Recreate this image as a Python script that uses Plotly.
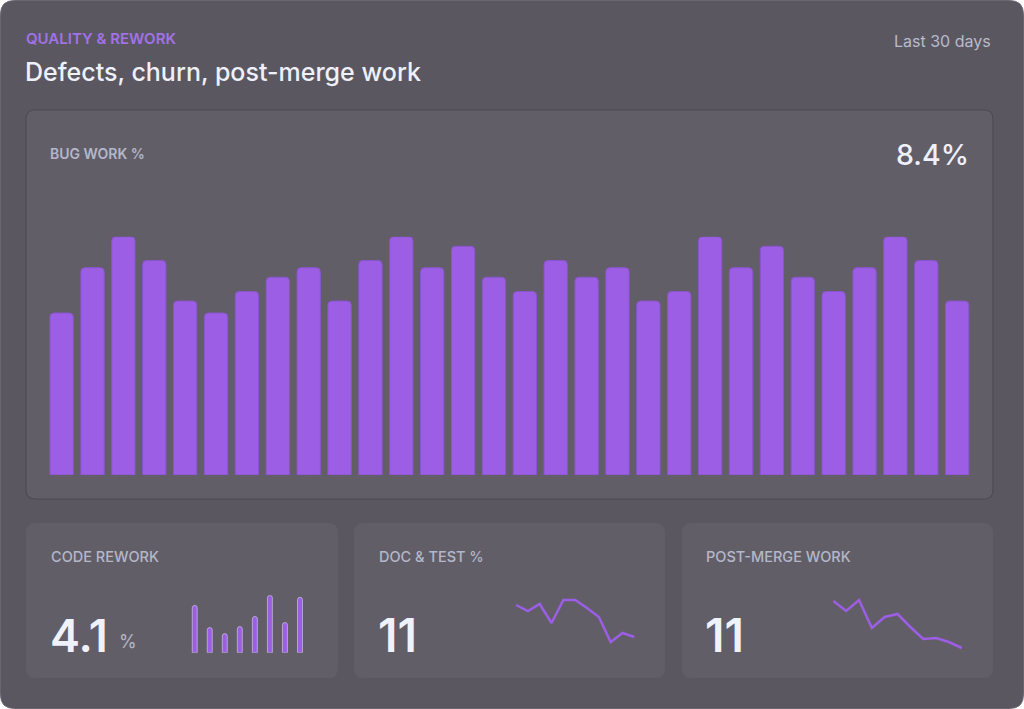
import plotly.graph_objects as go

W, H = 1024, 709

# data
days = list(range(1, 31))
bug_work = [6.8, 8.7, 10.0, 9.0, 7.3, 6.8, 7.7, 8.3, 8.7, 7.3,
            9.0, 10.0, 8.7, 9.6, 8.3, 7.7, 9.0, 8.3, 8.7, 7.3,
            7.7, 10.0, 8.7, 9.6, 8.3, 7.7, 8.7, 10.0, 9.0, 7.3]
code_rework = [4.7, 2.5, 1.9, 2.6, 3.6, 5.7, 3.0, 5.5]
doc_test = [12.5, 11.9, 12.6, 10.7, 13.0, 13.0, 12.2, 11.3, 8.8, 9.7, 9.3]
post_merge = [13.4, 12.4, 13.5, 10.7, 11.8, 12.1, 10.8, 9.6, 9.7, 9.3, 8.7]

PURPLE = "#9b5ee4"
CARD = "#5b5760"
PANEL = "#625e68"
FONT = "Inter"


def px(x):
    return x / W


def py(y):
    return 1 - y / H


def rounded(x0, y0, x1, y1, r):
    pts = [
        ("M", [(x0 + r, y0)]), ("L", [(x1 - r, y0)]), ("Q", [(x1, y0), (x1, y0 + r)]),
        ("L", [(x1, y1 - r)]), ("Q", [(x1, y1), (x1 - r, y1)]),
        ("L", [(x0 + r, y1)]), ("Q", [(x0, y1), (x0, y1 - r)]),
        ("L", [(x0, y0 + r)]), ("Q", [(x0, y0), (x0 + r, y0)]),
    ]
    s = ""
    for cmd, ps in pts:
        s += cmd + " " + " ".join("%.5f,%.5f" % (px(a), py(b)) for a, b in ps) + " "
    return s + "Z"


fig = go.Figure()

fig.add_trace(go.Bar(x=days, y=bug_work, marker=dict(color=PURPLE, cornerradius=4,
                     line=dict(color="#8a55cc", width=1)),
                     xaxis="x", yaxis="y", hoverinfo="y"))
fig.add_trace(go.Bar(x=list(range(len(code_rework))), y=code_rework,
                     marker=dict(color=PURPLE, cornerradius="50%"), width=0.33,
                     xaxis="x2", yaxis="y2", hoverinfo="y"))
fig.add_trace(go.Scatter(x=list(range(len(doc_test))), y=doc_test, mode="lines",
                         line=dict(color=PURPLE, width=2.5),
                         xaxis="x3", yaxis="y3", hoverinfo="y"))
fig.add_trace(go.Scatter(x=list(range(len(post_merge))), y=post_merge, mode="lines",
                         line=dict(color=PURPLE, width=2.5),
                         xaxis="x4", yaxis="y4", hoverinfo="y"))

hidden = dict(visible=False, fixedrange=True)

shapes = [
    dict(type="path", path=rounded(0.5, 0.5, 1023.5, 708.5, 14), xref="paper", yref="paper",
         fillcolor=CARD, line=dict(color="#6a6670", width=1), layer="below"),
    dict(type="path", path=rounded(26, 110, 993, 499, 9), xref="paper", yref="paper",
         fillcolor=PANEL, line=dict(color="#4e4b53", width=1.2), layer="below"),
]
for x0, x1 in [(26, 338), (354, 665), (682, 993)]:
    shapes.append(dict(type="path", path=rounded(x0, 523, x1, 678, 10), xref="paper",
                       yref="paper", fillcolor=PANEL, line=dict(width=0), layer="below"))


def label(x, y, text, size, color, weight=400, anchor="left"):
    return dict(x=px(x), y=py(y), xref="paper", yref="paper", text=text, showarrow=False,
                xanchor=anchor, yanchor="middle",
                font=dict(family=FONT, size=size, color=color, weight=weight))


annotations = [
    label(24, 38, "QUALITY &amp; REWORK", 15, "#a172e8", 600),
    label(23, 72, "Defects, churn, post-merge work", 25, "#eef0fa", 500),
    label(993, 41, "Last 30 days", 16, "#b8bbca", 400, "right"),
    label(48, 153, "BUG WORK %", 14, "#b4b7c8", 600),
    label(971, 154, "8.4%", 28.5, "#eef0fa", 500, "right"),
    label(49, 556, "CODE REWORK", 14.5, "#b4b7c8", 500),
    label(377, 556, "DOC &amp; TEST %", 14.5, "#b4b7c8", 500),
    label(704, 556, "POST-MERGE WORK", 14.5, "#b4b7c8", 500),
    label(48, 635, "4.1", 45, "#f0f2fb", 600),
    label(117, 641, "%", 18, "#b4b7c8", 400),
    label(376, 635, "11", 46, "#f0f2fb", 600),
    label(703, 635, "11", 46, "#f0f2fb", 600),
]

fig.update_layout(
    width=W, height=H,
    margin=dict(l=0, r=0, t=0, b=0),
    paper_bgcolor="white", plot_bgcolor="rgba(0,0,0,0)",
    showlegend=False, bargap=0.245,
    shapes=shapes, annotations=annotations,
    xaxis=dict(domain=[px(46.2), px(972.6)], range=[0.5, 30.5], **hidden),
    yaxis=dict(domain=[py(475), py(236.7)], range=[0, 10], **hidden),
    xaxis2=dict(domain=[px(187.2), px(307.5)], range=[-0.5, 7.5], anchor="y2", **hidden),
    yaxis2=dict(domain=[py(652.7), py(595.3)], range=[0, 5.7], anchor="x2", **hidden),
    xaxis3=dict(domain=[px(512.5), px(637.9)], range=[-0.3, 10.3], anchor="y3", **hidden),
    yaxis3=dict(domain=[py(655), py(590)], range=[7.5, 14], anchor="x3", **hidden),
    xaxis4=dict(domain=[px(829.5), px(965.6)], range=[-0.3, 10.3], anchor="y4", **hidden),
    yaxis4=dict(domain=[py(660), py(590)], range=[7.5, 14.5], anchor="x4", **hidden),
)

# drop the default page margin so the card sits flush in the window
fig.write_html("out.html", config={"displayModeBar": False},
               post_script="document.body.style.margin='0';"
                           "document.body.style.overflow='hidden';")
